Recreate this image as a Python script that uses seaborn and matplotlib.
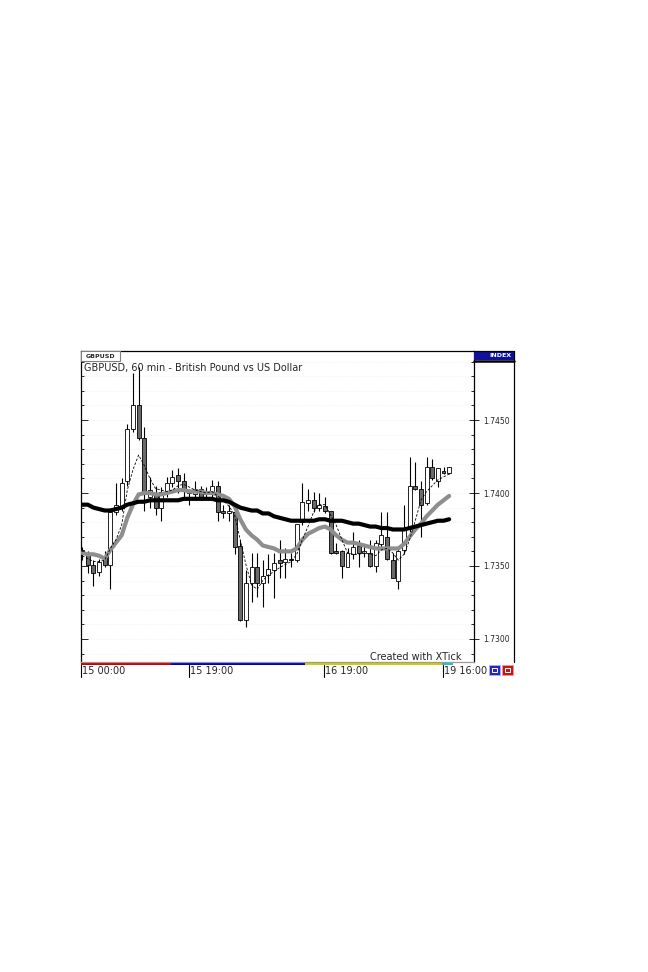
import numpy as np
import pandas as pd
import matplotlib
matplotlib.use("Agg")
import matplotlib.pyplot as plt
import matplotlib.transforms as mtransforms
from matplotlib.patches import Rectangle
from matplotlib.lines import Line2D
from matplotlib.ticker import MultipleLocator, FormatStrFormatter
import seaborn as sns

# GBPUSD hourly candles
opens = [1.7361, 1.7358, 1.7351, 1.7346, 1.7356, 1.7351, 1.7387, 1.7390, 1.7408, 1.7444, 1.7460,
         1.7438, 1.7397, 1.7399, 1.7390, 1.7400, 1.7407, 1.7412, 1.7408, 1.7401, 1.7399, 1.7403,
         1.7399, 1.7400, 1.7405, 1.7388, 1.7386, 1.7387, 1.7364, 1.7313, 1.7338, 1.7349, 1.7338,
         1.7344, 1.7347, 1.7354, 1.7353, 1.7355, 1.7354, 1.7380, 1.7393, 1.7395, 1.7390, 1.7391,
         1.7388, 1.7360, 1.7360, 1.7349, 1.7358, 1.7364, 1.7359, 1.7359, 1.7350, 1.7365, 1.7370,
         1.7354, 1.7340, 1.7361, 1.7375, 1.7405, 1.7403, 1.7393, 1.7418, 1.7408, 1.7415, 1.7414]
highs = [1.7363, 1.7360, 1.7354, 1.7355, 1.7360, 1.7390, 1.7407, 1.7410, 1.7447, 1.7482, 1.7486,
         1.7445, 1.7411, 1.7405, 1.7404, 1.7411, 1.7416, 1.7417, 1.7414, 1.7403, 1.7408, 1.7405,
         1.7404, 1.7409, 1.7408, 1.7392, 1.7392, 1.7392, 1.7368, 1.7347, 1.7359, 1.7359, 1.7354,
         1.7358, 1.7359, 1.7368, 1.7362, 1.7359, 1.7379, 1.7407, 1.7403, 1.7401, 1.7400, 1.7397,
         1.7388, 1.7366, 1.7361, 1.7362, 1.7373, 1.7368, 1.7364, 1.7368, 1.7368, 1.7387, 1.7387,
         1.7359, 1.7364, 1.7392, 1.7425, 1.7421, 1.7408, 1.7425, 1.7423, 1.7417, 1.7418, 1.7418]
lows = [1.7354, 1.7345, 1.7336, 1.7343, 1.7349, 1.7334, 1.7385, 1.7388, 1.7405, 1.7442, 1.7436,
        1.7388, 1.7390, 1.7385, 1.7381, 1.7397, 1.7404, 1.7400, 1.7397, 1.7392, 1.7396, 1.7395,
        1.7397, 1.7397, 1.7381, 1.7383, 1.7381, 1.7358, 1.7312, 1.7308, 1.7325, 1.7329, 1.7322,
        1.7338, 1.7328, 1.7342, 1.7342, 1.7349, 1.7353, 1.7378, 1.7388, 1.7387, 1.7388, 1.7386,
        1.7358, 1.7358, 1.7342, 1.7349, 1.7355, 1.7349, 1.7356, 1.7349, 1.7346, 1.7363, 1.7354,
        1.7342, 1.7334, 1.7358, 1.7373, 1.7402, 1.7370, 1.7392, 1.7409, 1.7404, 1.7413, 1.7413]
closes = [1.7358, 1.7351, 1.7345, 1.7353, 1.7351, 1.7387, 1.7392, 1.7407, 1.7444, 1.7460, 1.7438,
          1.7401, 1.7402, 1.7390, 1.7401, 1.7407, 1.7411, 1.7408, 1.7402, 1.7400, 1.7403, 1.7397,
          1.7400, 1.7405, 1.7387, 1.7386, 1.7388, 1.7363, 1.7313, 1.7338, 1.7349, 1.7338, 1.7343,
          1.7348, 1.7352, 1.7352, 1.7355, 1.7354, 1.7379, 1.7394, 1.7395, 1.7390, 1.7392, 1.7388,
          1.7359, 1.7359, 1.7350, 1.7359, 1.7363, 1.7359, 1.7360, 1.7350, 1.7366, 1.7371, 1.7355,
          1.7342, 1.7360, 1.7375, 1.7405, 1.7403, 1.7392, 1.7418, 1.7410, 1.7417, 1.7414, 1.7418]

# moving averages (thin dashed, thick grey, thick black)
ma_fast = [1.7357, 1.7355, 1.7353, 1.7353, 1.7354, 1.7362, 1.7368, 1.7378, 1.7402, 1.7416, 1.7426,
           1.7419, 1.7410, 1.7403, 1.7402, 1.7401, 1.7402, 1.7405, 1.7406, 1.7404, 1.7402, 1.7401,
           1.7400, 1.7401, 1.7398, 1.7395, 1.7391, 1.7385, 1.7368, 1.7351, 1.7337, 1.7334, 1.7340,
           1.7344, 1.7346, 1.7349, 1.7351, 1.7353, 1.7358, 1.7368, 1.7377, 1.7387, 1.7392, 1.7392,
           1.7385, 1.7378, 1.7368, 1.7359, 1.7358, 1.7358, 1.7359, 1.7358, 1.7357, 1.7361, 1.7362,
           1.7359, 1.7354, 1.7358, 1.7368, 1.7381, 1.7395, 1.7401, 1.7405, 1.7409, 1.7411, 1.7413]
ma_mid = [1.7359, 1.7358, 1.7358, 1.7357, 1.7355, 1.7361, 1.7366, 1.7371, 1.7383, 1.7392, 1.7399,
          1.7400, 1.7400, 1.7399, 1.7399, 1.7400, 1.7401, 1.7402, 1.7402, 1.7401, 1.7401, 1.7401,
          1.7400, 1.7400, 1.7399, 1.7398, 1.7396, 1.7391, 1.7382, 1.7375, 1.7371, 1.7368, 1.7364,
          1.7363, 1.7362, 1.7360, 1.7360, 1.7360, 1.7362, 1.7368, 1.7372, 1.7374, 1.7376, 1.7377,
          1.7375, 1.7371, 1.7368, 1.7366, 1.7366, 1.7365, 1.7364, 1.7363, 1.7362, 1.7362, 1.7362,
          1.7362, 1.7362, 1.7365, 1.7370, 1.7375, 1.7379, 1.7384, 1.7388, 1.7392, 1.7395, 1.7398]
ma_slow = [1.7392, 1.7392, 1.7390, 1.7389, 1.7388, 1.7388, 1.7389, 1.7390, 1.7392, 1.7393, 1.7394,
           1.7394, 1.7395, 1.7395, 1.7395, 1.7395, 1.7395, 1.7395, 1.7396, 1.7396, 1.7396, 1.7396,
           1.7396, 1.7396, 1.7395, 1.7395, 1.7394, 1.7392, 1.7390, 1.7389, 1.7388, 1.7388, 1.7386,
           1.7386, 1.7384, 1.7383, 1.7382, 1.7381, 1.7381, 1.7381, 1.7381, 1.7381, 1.7382, 1.7382,
           1.7381, 1.7381, 1.7381, 1.7380, 1.7379, 1.7379, 1.7378, 1.7377, 1.7377, 1.7376, 1.7376,
           1.7375, 1.7375, 1.7375, 1.7376, 1.7377, 1.7378, 1.7379, 1.7380, 1.7381, 1.7381, 1.7382]

tick_idx = [0, 19, 43, 64]
tick_labels = ["15 00:00", "15 19:00", "16 19:00", "19 16:00"]
# trading session strip under the chart (candle index from/to, colour)
sessions = [(-0.2, 15.75, "#d00000"), (15.75, 39.5, "#0000c0"),
            (39.5, 63.7, "#d0d000"), (63.7, 65.7, "#20c0d0")]

W, H = 648, 972


def fx(px):
    return px / W


def fy(py):
    return 1 - py / H


df = pd.DataFrame({"open": opens, "high": highs, "low": lows, "close": closes,
                   "fast": ma_fast, "mid": ma_mid, "slow": ma_slow})
df["idx"] = np.arange(len(df))
df["up"] = df["close"] >= df["open"]
df["body_lo"] = df[["open", "close"]].min(axis=1)
df["body_h"] = (df["close"] - df["open"]).abs().clip(lower=0.00004)

sns.set_style("white")
plt.rcParams["font.family"] = ["DejaVu Sans"]

fig = plt.figure(figsize=(W / 100, H / 100), dpi=100)
ax = fig.add_axes([fx(81), fy(662), fx(474) - fx(81), fy(351) - fy(662)])
ylim = (1.72842, 1.74973)

# left side ticks (inward only) on a twin axis
ax2 = ax.twinx()
ax2.set_ylim(ylim)
ax2.yaxis.tick_left()
ax2.yaxis.set_major_locator(MultipleLocator(0.005))
ax2.yaxis.set_minor_locator(MultipleLocator(0.001))
ax2.tick_params(axis="y", which="major", direction="in", length=5, width=0.7, labelleft=False)
ax2.tick_params(axis="y", which="minor", direction="in", length=2.5, width=0.7)
for s in ax2.spines.values():
    s.set_visible(False)

# candles
ax.vlines(df["idx"], df["low"], df["high"], color="black", lw=0.8, zorder=2)
ax.bar(df["idx"], df["body_h"], bottom=df["body_lo"], width=0.7,
       color=np.where(df["up"], "white", "#6a6a6a"), edgecolor="black",
       linewidth=0.6, zorder=3)

# moving averages
sns.lineplot(data=df, x="idx", y="mid", color="#8e8e8e", lw=3.0, ax=ax, zorder=4)
sns.lineplot(data=df, x="idx", y="slow", color="black", lw=3.0, ax=ax, zorder=5)
sns.lineplot(data=df, x="idx", y="fast", color="black", lw=0.6,
             linestyle=(0, (3, 2)), ax=ax, zorder=6)

ax.set_xlim(-0.2, 69.4)
ax.set_ylim(ylim)
ax.set_xlabel("")
ax.set_ylabel("")
ax.set_xticks([])

ax.yaxis.tick_right()
ax.yaxis.set_label_position("right")
ax.yaxis.set_major_locator(MultipleLocator(0.005))
ax.yaxis.set_minor_locator(MultipleLocator(0.001))
ax.yaxis.set_major_formatter(FormatStrFormatter("%.4f"))
ax.tick_params(axis="y", which="major", direction="inout", length=7, width=0.7,
               labelsize=5.5, pad=3, left=False, right=True, labelleft=False, labelright=True)
ax.tick_params(axis="y", which="minor", direction="in", length=2.5, width=0.7,
               left=False, right=True)
ax.grid(which="both", axis="y", color="#ececec", lw=0.5, ls=":")

for s in ["left", "top", "right"]:
    ax.spines[s].set_color("black")
    ax.spines[s].set_linewidth(0.9)
ax.spines["bottom"].set_color("#9a9a9a")
ax.spines["bottom"].set_linewidth(0.9)

trans = mtransforms.blended_transform_factory(ax.transData, ax.transAxes)
for start, end, col in sessions:
    ax.add_patch(Rectangle((start, -0.011), end - start, 0.009, transform=trans,
                           facecolor=col, edgecolor="none", clip_on=False))
for i, lab in zip(tick_idx, tick_labels):
    ax.add_line(Line2D([i - 0.15, i - 0.15], [-0.011, -0.048], transform=trans,
                       color="black", lw=0.8, clip_on=False))
    ax.text(i + 0.05, -0.029, lab, transform=trans, ha="left", va="center", fontsize=7)

ax.text(0.008, 0.945, "GBPUSD, 60 min - British Pound vs US Dollar",
        transform=ax.transAxes, ha="left", va="center", fontsize=7)
ax.text(0.967, 0.016, "Created with XTick", transform=ax.transAxes,
        ha="right", va="center", fontsize=7)

# symbol tab
fig.add_artist(Rectangle((fx(81), fy(361)), fx(120) - fx(81), fy(351) - fy(361),
                         transform=fig.transFigure, facecolor="white",
                         edgecolor="#808080", lw=0.8))
fig.text(fx(100.5), fy(356), "GBPUSD", fontsize=4.5, fontweight="bold",
         ha="center", va="center")

# right panel: header, borders
fig.add_artist(Rectangle((fx(474), fy(359.5)), fx(514) - fx(474), fy(351) - fy(359.5),
                         transform=fig.transFigure, facecolor="#10109a", edgecolor="none"))
fig.text(fx(512), fy(355.5), "INDEX", fontsize=4.5, fontweight="bold", color="white",
         ha="right", va="center")
fig.add_artist(Line2D([fx(474), fx(514)], [fy(361.5), fy(361.5)],
                      transform=fig.transFigure, color="black", lw=1.8))
fig.add_artist(Line2D([fx(474), fx(514)], [fy(351), fy(351)],
                      transform=fig.transFigure, color="black", lw=0.9))
fig.add_artist(Line2D([fx(513.5), fx(513.5)], [fy(351), fy(662)],
                      transform=fig.transFigure, color="black", lw=0.9))

# small navigation buttons
for x0, col, edge in [(489, "#2424c8", "#b0b0ff"), (502, "#c01818", "#ff9090")]:
    fig.add_artist(Rectangle((fx(x0), fy(675)), fx(11), fy(0) - fy(10),
                             transform=fig.transFigure, facecolor=col,
                             edgecolor=edge, lw=0.6))
    fig.add_artist(Rectangle((fx(x0 + 3), fy(672)), fx(5), fy(0) - fy(4),
                             transform=fig.transFigure, facecolor="none",
                             edgecolor="white", lw=0.7))

fig.savefig("out.png", dpi=100)
